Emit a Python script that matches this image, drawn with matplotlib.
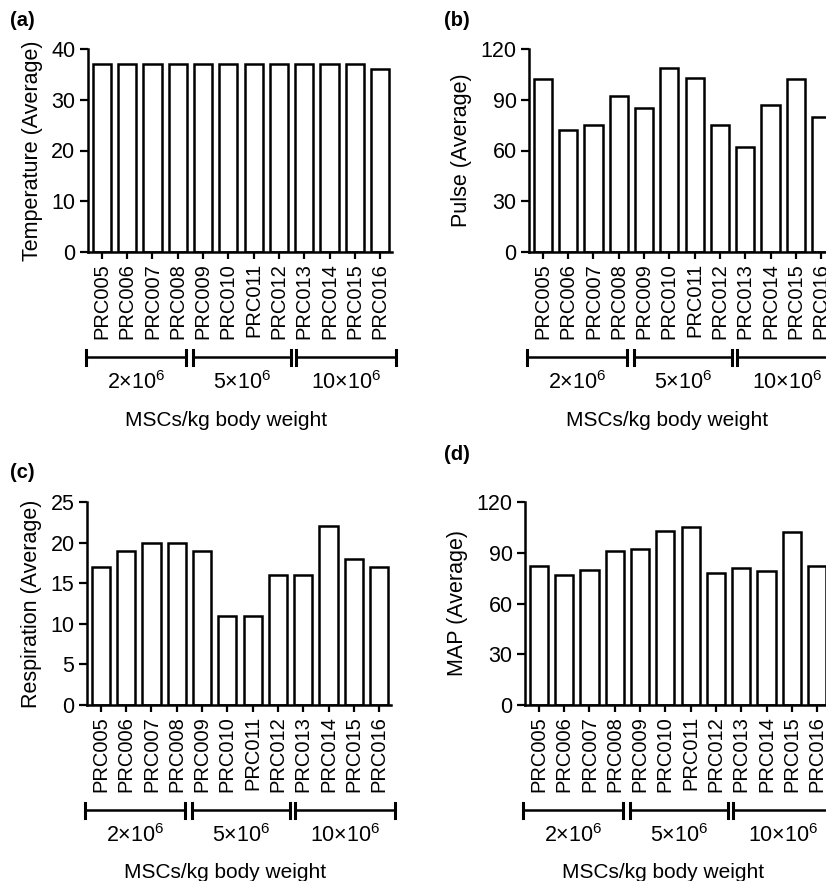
import matplotlib
matplotlib.use('Agg')
import matplotlib.pyplot as plt
import matplotlib.transforms as mtransforms

plt.rcParams['font.family'] = ['Liberation Sans', 'DejaVu Sans']
plt.rcParams['mathtext.fontset'] = 'custom'
plt.rcParams['mathtext.rm'] = 'Liberation Sans'
plt.rcParams['mathtext.it'] = 'Liberation Sans'

patients = ['PRC005', 'PRC006', 'PRC007', 'PRC008', 'PRC009', 'PRC010',
            'PRC011', 'PRC012', 'PRC013', 'PRC014', 'PRC015', 'PRC016']
temperature = [37, 37, 37, 37, 37, 37, 37, 37, 37, 37, 37, 36]
pulse = [102, 72, 75, 92, 85, 109, 103, 75, 62, 87, 102, 80]
respiration = [17, 19, 20, 20, 19, 11, 11, 16, 16, 22, 18, 17]
map_avg = [82, 77, 80, 91, 92, 103, 105, 78, 81, 79, 102, 82]

dose_groups = ['2×10$^{6}$', '5×10$^{6}$', '10×10$^{6}$']
group_spans = [(-0.62, 3.33), (3.6, 7.47), (7.67, 11.62)]

W, H = 826, 881
fig = plt.figure(figsize=(W / 100, H / 100), dpi=100)


def make_panel(left_px, top_px, values, ylabel, ymax, yticks, tag, tag_xy):
    ax_w, ax_h = 304, 203
    ax = fig.add_axes([left_px / W, 1 - (top_px + ax_h) / H, ax_w / W, ax_h / H])
    x = list(range(len(values)))
    ax.bar(x, values, width=0.72, color='white', edgecolor='black', linewidth=1.8)
    ax.set_xlim(-0.55, 11.47)
    ax.set_ylim(0, ymax)
    ax.set_yticks(yticks)
    ax.set_xticks(x)
    ax.set_xticklabels(patients, rotation=90, fontsize=14.5)
    ax.tick_params(axis='y', labelsize=15.5, length=6, width=1.6, direction='out', pad=3)
    ax.tick_params(axis='x', length=5, width=1.6, direction='out', pad=3)
    for s in ['top', 'right']:
        ax.spines[s].set_visible(False)
    for s in ['left', 'bottom']:
        ax.spines[s].set_linewidth(1.8)
    ax.set_ylabel(ylabel, fontsize=15.5, labelpad=6)

    # dose group brackets under the tick labels
    trans = mtransforms.blended_transform_factory(ax.transData, ax.transAxes)
    yb = -105 / ax_h
    cap = 7.5 / ax_h
    for (a, b), lab in zip(group_spans, dose_groups):
        ax.plot([a, b], [yb, yb], color='black', lw=1.8, transform=trans, clip_on=False)
        for xe in (a, b):
            ax.plot([xe, xe], [yb - cap, yb + cap], color='black', lw=2.2,
                    transform=trans, clip_on=False)
        ax.text((a + b) / 2, -131 / ax_h, lab, transform=trans, ha='center',
                va='center', fontsize=15.5)
    ax.text(4.9, -168 / ax_h, 'MSCs/kg body weight', transform=trans,
            ha='center', va='center', fontsize=15)

    fig.text(tag_xy[0] / W, 1 - tag_xy[1] / H, tag, fontsize=14.5,
             fontweight='bold', ha='left', va='center')
    return ax


make_panel(88, 49, temperature, 'Temperature (Average)', 40, [0, 10, 20, 30, 40], '(a)', (10, 20))
make_panel(529, 49, pulse, 'Pulse (Average)', 120, [0, 30, 60, 90, 120], '(b)', (444, 20))
make_panel(87, 502, respiration, 'Respiration (Average)', 25, [0, 5, 10, 15, 20, 25], '(c)', (10, 472))
make_panel(525, 502, map_avg, 'MAP (Average)', 120, [0, 30, 60, 90, 120], '(d)', (444, 455))

fig.savefig('out.png', dpi=100)
